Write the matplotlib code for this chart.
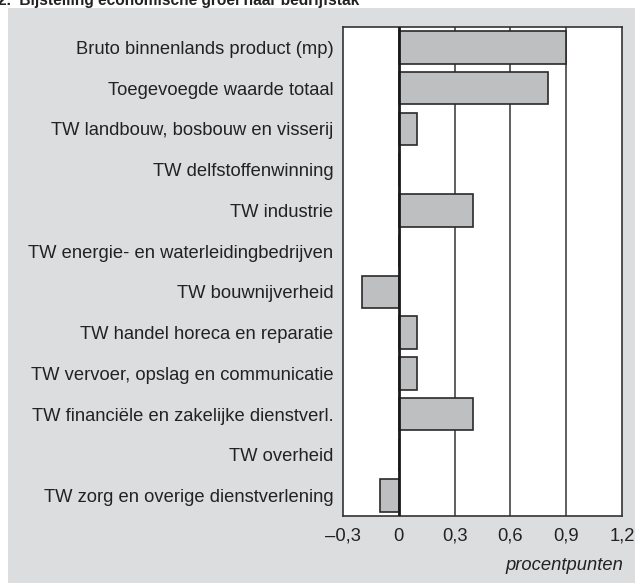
import matplotlib
matplotlib.use("Agg")
import matplotlib.pyplot as plt
from matplotlib.patches import Rectangle

categories = [
    "Bruto binnenlands product (mp)",
    "Toegevoegde waarde totaal",
    "TW landbouw, bosbouw en visserij",
    "TW delfstoffenwinning",
    "TW industrie",
    "TW energie- en waterleidingbedrijven",
    "TW bouwnijverheid",
    "TW handel horeca en reparatie",
    "TW vervoer, opslag en communicatie",
    "TW financiële en zakelijke dienstverl.",
    "TW overheid",
    "TW zorg en overige dienstverlening",
]
values = [0.9, 0.8, 0.1, 0.0, 0.4, 0.0, -0.2, 0.1, 0.1, 0.4, 0.0, -0.1]
tick_values = [-0.3, 0.0, 0.3, 0.6, 0.9, 1.2]
tick_labels = ["\u20130,3", "0", "0,3", "0,6", "0,9", "1,2"]

plt.rcParams['font.family'] = ['Liberation Sans', 'DejaVu Sans']

W, H = 635, 583
fig = plt.figure(figsize=(W / 100, H / 100), dpi=100, facecolor="white")

# grey panel
fig.patches.append(Rectangle((8 / W, 0), 1 - 8 / W, 1 - 8 / H, transform=fig.transFigure,
                             facecolor="#dcdddf", edgecolor="none", zorder=-10))

fig.text(-2 / W, 1 - 4.5 / H, "2.  Bijstelling economische groei naar bedrijfstak",
         fontsize=11.2, fontweight="bold", ha="left", va="baseline", color="#222222")

left, right, top, bottom = 343, 622, 27, 516
ax = fig.add_axes([left / W, 1 - bottom / H, (right - left) / W, (bottom - top) / H])
ax.set_zorder(5)
ax.set_facecolor("white")

n = len(categories)
ypos = list(range(n))
ax.barh(ypos, values, height=0.8, color="#bebfc1", edgecolor="#2a2a2a", linewidth=1.2, zorder=3)
ax.set_ylim(n - 0.5, -0.5)
ax.set_xlim(-0.3, 1.2)

for v in [0.3, 0.6, 0.9]:
    ax.axvline(v, color="#444444", linewidth=1.2, zorder=1)
ax.axvline(0, color="#1a1a1a", linewidth=2.0, zorder=4)

ax.set_xticks(tick_values)
ax.set_xticklabels(tick_labels)
ax.set_yticks(ypos)
ax.set_yticklabels(categories)
ax.tick_params(axis="both", length=0, labelsize=13.2, colors="#222222")
ax.tick_params(axis="x", pad=8.5)
ax.tick_params(axis="y", pad=7)
for s in ax.spines.values():
    s.set_color("#333333")
    s.set_linewidth(1.2)

fig.text(623 / W, 1 - 565 / H, "procentpunten", fontsize=13.2, style="italic",
         ha="right", va="center", color="#222222")

fig.savefig("out.png", dpi=100, facecolor="white")
